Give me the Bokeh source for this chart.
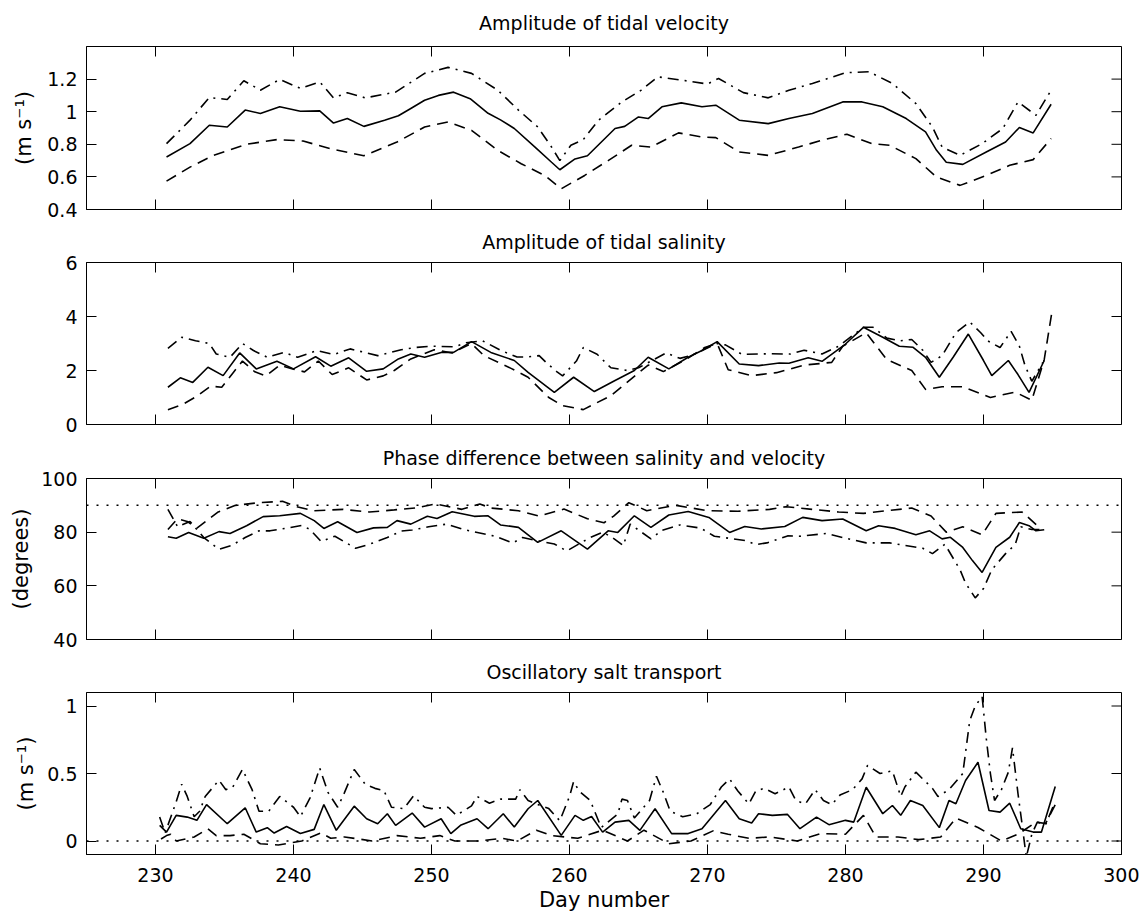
from bokeh.plotting import figure
from bokeh.models import FixedTicker, Span, Range1d
from bokeh.layouts import column
from bokeh.embed import file_html
from bokeh.resources import INLINE

# ---------------- data ----------------
X_TICKS = [230, 240, 250, 260, 270, 280, 290, 300]
X_LABEL = "Day number"
X_RANGE = (225, 300)

# Panel 1: amplitude of tidal velocity
vel_solid_day = [230.8, 232.5, 233.9, 235.2, 236.5, 237.6, 239.0, 240.5, 241.9, 242.9, 243.9, 245.1,
                 246.6, 247.6, 248.5, 249.5, 250.5, 251.6, 252.8, 254.1, 255.0, 256.0, 257.5, 258.7,
                 259.3, 260.4, 261.3, 263.3, 264.0, 265.0, 265.7, 266.7, 268.1, 269.6, 270.6, 272.3,
                 274.4, 275.9, 277.6, 279.8, 281.2, 282.7, 284.4, 285.8, 286.6, 287.3, 288.5, 290.2,
                 291.6, 292.6, 293.6, 294.9]
vel_solid = [0.722, 0.804, 0.917, 0.906, 1.01, 0.989, 1.03, 1.003, 1.005, 0.93, 0.958, 0.91,
             0.948, 0.975, 1.02, 1.07, 1.10, 1.12, 1.08, 0.99, 0.95, 0.897, 0.783, 0.69,
             0.644, 0.71, 0.73, 0.897, 0.91, 0.968, 0.958, 1.03, 1.054, 1.03, 1.04, 0.948,
             0.927, 0.958, 0.989, 1.06, 1.06, 1.03, 0.958, 0.876, 0.763, 0.69, 0.677, 0.753,
             0.814, 0.903, 0.87, 1.046]
vel_dd_day = [230.8, 232.5, 233.9, 235.2, 236.4, 237.6, 239.0, 240.5, 241.9, 242.9, 243.9, 245.2,
              247.4, 249.5, 251.2, 252.9, 254.8, 256.3, 257.7, 258.7, 259.3, 260.1, 261.0, 262.1,
              263.8, 265.2, 266.4, 268.1, 270.0, 270.8, 272.6, 274.4, 275.9, 277.6, 280.0, 281.7,
              283.4, 285.1, 286.3, 287.0, 288.3, 289.9, 291.4, 292.5, 293.8, 294.9]
vel_dd = [0.804, 0.948, 1.087, 1.075, 1.19, 1.132, 1.198, 1.143, 1.183, 1.085, 1.116, 1.085,
          1.12, 1.235, 1.272, 1.235, 1.132, 1.01, 0.906, 0.783, 0.70, 0.794, 0.829, 0.948,
          1.06, 1.132, 1.214, 1.194, 1.17, 1.204, 1.117, 1.085, 1.132, 1.173, 1.239, 1.245,
          1.173, 1.05, 0.906, 0.783, 0.732, 0.804, 0.897, 1.06, 0.978, 1.132]
vel_da_day = [230.8, 232.5, 234.2, 236.6, 238.8, 240.7, 242.8, 245.1, 247.5, 249.5, 251.2, 252.9,
              254.8, 256.5, 258.2, 259.4, 261.1, 262.8, 264.5, 265.9, 267.9, 269.6, 270.6, 272.3,
              274.4, 276.6, 278.3, 280.1, 281.9, 283.2, 285.1, 286.6, 288.3, 290.2, 291.9, 293.6,
              294.9]
vel_da = [0.574, 0.66, 0.732, 0.80, 0.829, 0.82, 0.77, 0.73, 0.814, 0.906, 0.937, 0.886,
          0.763, 0.681, 0.609, 0.527, 0.609, 0.70, 0.794, 0.783, 0.87, 0.845, 0.841, 0.753,
          0.732, 0.783, 0.825, 0.862, 0.804, 0.794, 0.712, 0.599, 0.548, 0.609, 0.671, 0.706,
          0.835]

# Panel 2: amplitude of tidal salinity
sal_solid_day = [230.9, 231.8, 232.7, 233.8, 234.9, 236.1, 237.3, 238.8, 240.0, 241.6, 242.7, 244.0,
                 245.3, 246.5, 247.6, 248.5, 249.5, 250.7, 251.6, 252.9, 254.3, 256.0, 257.0, 258.9,
                 260.3, 261.8, 263.3, 264.7, 265.7, 267.2, 268.6, 269.6, 270.7, 272.3, 273.7, 275.2,
                 275.9, 277.3, 278.3, 280.0, 281.3, 282.7, 283.9, 284.9, 285.8, 286.8, 287.8, 288.9,
                 290.0, 290.6, 291.8, 292.5, 293.3, 294.4]
sal_solid = [1.38, 1.73, 1.56, 2.12, 1.81, 2.65, 2.06, 2.34, 2.06, 2.51, 2.16, 2.47,
             1.97, 2.06, 2.43, 2.61, 2.49, 2.67, 2.67, 3.07, 2.67, 2.37, 1.93, 1.19,
             1.75, 1.22, 1.63, 2.0, 2.49, 2.06, 2.49, 2.74, 3.07, 2.24, 2.18, 2.28,
             2.27, 2.47, 2.34, 2.98, 3.60, 3.23, 2.90, 2.86, 2.49, 1.75, 2.49, 3.35,
             2.37, 1.81, 2.37, 1.85, 1.19, 2.37]
sal_dd_day = [230.9, 231.9, 232.9, 233.9, 234.4, 235.4, 236.3, 237.1, 238.1, 239.3, 240.3, 241.7,
              242.9, 244.1, 246.1, 247.8, 248.8, 250.0, 251.7, 252.5, 253.7, 255.0, 256.2, 256.9,
              257.8, 258.3, 259.1, 259.5, 260.5, 261.0, 262.0, 263.0, 264.2, 265.0, 267.0, 268.0,
              268.8, 270.7, 271.3, 272.5, 274.5, 276.0, 277.0, 278.3, 279.5, 281.3, 282.0, 283.0,
              284.0, 284.8, 285.6, 286.2, 287.0, 288.0, 289.0, 289.8, 290.3, 291.2, 292.0, 292.6,
              293.0, 293.5, 294.3]
sal_dd = [2.82, 3.23, 3.1, 3.0, 2.61, 2.49, 3.0, 2.74, 2.49, 2.67, 2.49, 2.74,
          2.59, 2.80, 2.55, 2.77, 2.85, 2.9, 2.88, 3.03, 3.1, 2.75, 2.5, 2.5,
          2.55, 2.3, 1.95, 1.8, 2.35, 2.85, 2.6, 2.1, 2.0, 2.1, 2.65, 2.45,
          2.55, 3.0, 2.95, 2.6, 2.62, 2.61, 2.75, 2.61, 2.9, 3.6, 3.6, 3.2,
          3.1, 3.15, 2.75, 2.3, 2.55, 3.4, 3.8, 3.4, 3.1, 2.85, 3.45, 2.9,
          2.2, 1.6, 2.3]
sal_da_day = [230.9, 232.0, 233.0, 234.0, 234.8, 235.6, 236.3, 237.2, 238.0, 239.0, 240.0, 240.8,
              241.8, 242.8, 244.0, 245.3, 246.5, 247.3, 248.5, 250.2, 251.5, 252.9, 253.8, 255.8,
              257.0, 258.5, 259.5, 261.0, 263.0, 264.5, 265.7, 266.8, 268.5, 269.8, 270.7, 271.5,
              273.2, 275.0, 277.0, 279.0, 279.8, 281.5, 283.0, 284.8, 285.8, 287.0, 288.5, 290.5,
              292.3, 293.5, 294.4, 295.0]
sal_da = [0.55, 0.75, 1.05, 1.42, 1.38, 1.9, 2.35, 1.95, 1.8, 2.2, 2.05, 1.95,
          2.35, 1.85, 2.1, 1.65, 1.8, 2.0, 2.43, 2.77, 2.65, 3.0, 2.55, 2.07,
          1.75, 1.0, 0.7, 0.55, 1.07, 1.7, 2.2, 1.96, 2.43, 2.85, 3.0, 2.03,
          1.81, 1.92, 2.2, 2.3, 2.9, 3.4, 2.4, 2.0, 1.3, 1.4, 1.4, 1.0,
          1.2, 0.9, 2.4, 4.3]

# Panel 3: phase difference between salinity and velocity
ph_solid_day = [230.9, 231.5, 232.4, 233.5, 234.6, 235.4, 236.6, 237.8, 239.0, 240.5, 241.5, 242.2,
                243.2, 244.6, 245.8, 246.8, 247.5, 248.5, 249.7, 250.4, 251.5, 253.1, 254.1, 255.0,
                256.3, 257.7, 259.4, 261.3, 262.8, 263.5, 264.7, 265.9, 267.2, 268.6, 270.1, 271.6,
                272.7, 273.9, 275.6, 276.9, 278.3, 279.8, 281.5, 282.4, 283.6, 285.1, 286.1, 287.0,
                287.6, 288.5, 289.2, 289.9, 290.9, 291.9, 292.6, 293.3, 293.8, 294.4]
ph_solid = [78.3, 77.7, 79.9, 77.7, 80.2, 79.5, 82.4, 85.8, 86.1, 87.0, 84.3, 81.4,
            83.9, 79.9, 81.6, 81.8, 84.3, 83.0, 85.9, 85.1, 87.6, 85.9, 86.1, 82.7,
            81.8, 76.2, 80.5, 73.7, 80.5, 79.9, 86.1, 81.8, 86.4, 87.7, 85.5, 79.9,
            82.1, 81.2, 82.1, 85.5, 84.3, 84.9, 80.5, 82.4, 81.4, 79.0, 80.5, 77.5,
            78.1, 74.3, 69.4, 65.0, 74.3, 78.1, 83.6, 82.4, 80.5, 80.9]
ph_dd_day = [230.9, 231.6, 232.5, 233.5, 234.6, 235.5, 236.5, 237.5, 238.3, 239.5, 240.6, 241.2,
             242.0, 243.0, 244.5, 245.5, 246.8, 247.8, 248.6, 249.8, 251.1, 252.3, 254.6, 255.9,
             256.6, 257.5, 258.9, 259.8, 261.5, 262.4, 263.1, 263.9, 264.4, 265.9, 266.7, 268.0,
             269.5, 270.5, 272.8, 273.5, 274.3, 275.8, 276.7, 278.6, 279.8, 281.5, 283.2, 285.6,
             286.3, 287.2, 288.3, 288.7, 289.4, 290.0, 290.6, 291.6, 292.3, 292.7, 293.5, 294.4]
ph_dd = [88.5, 82, 84, 78, 73.6, 75, 78, 80.5, 80.5, 81.5, 82.5, 81,
         76.5, 78.5, 74, 75.5, 78, 80.4, 80.8, 82, 83, 81, 78.5, 76,
         78, 77, 75.6, 73, 78, 80, 78, 75, 83, 77.5, 80.7, 82.7,
         81.5, 78.5, 76.8, 75.4, 76, 78.6, 78.5, 79.5, 78, 76, 76, 74,
         72, 75.5, 66, 61, 55.5, 59, 66, 72, 75.4, 82, 81, 81]
ph_da_day = [230.9, 231.6, 232.3, 233.0, 234.5, 235.8, 237.5, 239.2, 240.2, 241.5, 243.6, 245.5,
             247.3, 248.8, 250.3, 252.2, 253.5, 254.3, 256.3, 257.8, 259.6, 261.3, 262.5, 263.2,
             264.3, 265.6, 267.7, 270.0, 272.2, 274.5, 275.7, 277.6, 279.5, 281.3, 283.0, 284.8,
             286.2, 287.3, 288.5, 289.9, 290.9, 292.8, 294.0]
ph_da = [81, 85, 84, 81.5, 87.4, 90, 91, 91.5, 89.5, 88, 88.5, 87.5,
         88.3, 89, 90.5, 88.5, 90.5, 89, 88, 86, 88.6, 85, 83.5, 86,
         91, 88, 90, 88, 87.8, 88.5, 89.5, 88.5, 87.5, 87, 88, 89,
         86, 80, 82, 79, 87, 87.5, 82]
PH_REF = 90

# Panel 4: oscillatory salt transport
tr_solid_day = [230.3, 230.8, 231.5, 232.3, 233.0, 233.7, 235.2, 236.5, 237.3, 238.1, 238.6, 239.5,
                240.5, 241.5, 242.2, 243.1, 244.4, 245.3, 246.1, 246.8, 247.4, 248.6, 249.5, 250.7,
                251.4, 252.1, 253.3, 254.1, 255.2, 256.0, 257.0, 257.7, 259.4, 260.4, 261.0, 261.6,
                262.4, 263.3, 264.3, 265.1, 266.2, 267.4, 268.6, 269.6, 271.3, 272.3, 273.2, 273.7,
                274.7, 275.8, 276.7, 277.9, 278.8, 280.0, 280.6, 281.5, 282.7, 283.4, 284.0, 284.7,
                285.6, 286.8, 287.5, 288.0, 288.7, 289.6, 290.4, 291.2, 291.9, 292.7, 293.6, 294.2,
                295.2]
tr_solid = [0.116, 0.066, 0.19, 0.177, 0.153, 0.27, 0.128, 0.246, 0.066, 0.099, 0.059, 0.108,
            0.055, 0.086, 0.27, 0.079, 0.258, 0.165, 0.128, 0.202, 0.116, 0.207, 0.103, 0.165,
            0.055, 0.116, 0.165, 0.091, 0.202, 0.103, 0.239, 0.30, 0.042, 0.19, 0.153, 0.182,
            0.066, 0.14, 0.153, 0.079, 0.239, 0.055, 0.055, 0.091, 0.30, 0.165, 0.133, 0.202,
            0.19, 0.197, 0.091, 0.177, 0.121, 0.153, 0.14, 0.398, 0.202, 0.263, 0.19, 0.30,
            0.263, 0.099, 0.30, 0.276, 0.448, 0.583, 0.226, 0.214, 0.28, 0.091, 0.066, 0.066,
            0.403]
tr_dd_day = [230.3, 230.7, 231.5, 231.9, 232.3, 232.8, 233.2, 233.6, 234.6, 235.1, 235.6, 236.3,
             237.0, 237.5, 238.2, 239.0, 240.0, 240.5, 241.2, 241.9, 242.5, 243.2, 243.7, 244.4,
             245.2, 245.9, 246.55, 247.1, 248.0, 248.7, 249.5, 250.0, 251.2, 251.8, 252.9, 253.3,
             254.2, 255.0, 256.1, 256.4, 257.0, 257.7, 258.5, 259.3, 260.0, 260.3, 260.7, 261.5,
             262.3, 263.5, 263.8, 264.2, 264.7, 265.8, 266.3, 266.8, 267.3, 268.2, 269.2, 270.2,
             271.0, 271.6, 272.2, 273.0, 273.5, 274.1, 274.9, 275.9, 276.4, 277.1, 277.8, 278.4,
             279.0, 279.6, 280.5, 281.2, 281.6, 282.5, 283.4, 284.0, 284.3, 285.1, 286.3, 286.7,
             287.5, 288.5, 289.0, 289.4, 289.9, 290.2, 290.5, 290.8, 291.3, 291.8, 292.1, 292.5,
             292.8, 293.1, 293.5, 293.9, 294.5, 295.1]
tr_dd = [0.177, 0.06, 0.29, 0.42, 0.33, 0.18, 0.22, 0.33, 0.45, 0.38, 0.40, 0.53,
         0.38, 0.22, 0.22, 0.33, 0.25, 0.18, 0.32, 0.54, 0.36, 0.25, 0.36, 0.53,
         0.42, 0.39, 0.374, 0.25, 0.24, 0.335, 0.25, 0.24, 0.25, 0.19, 0.26, 0.33,
         0.28, 0.31, 0.31, 0.38, 0.30, 0.27, 0.24, 0.15, 0.33, 0.44, 0.37, 0.30,
         0.10, 0.20, 0.31, 0.30, 0.17, 0.30, 0.48, 0.36, 0.22, 0.18, 0.20, 0.27,
         0.40, 0.46, 0.37, 0.275, 0.37, 0.39, 0.35, 0.40, 0.30, 0.275, 0.38, 0.30,
         0.27, 0.34, 0.38, 0.46, 0.56, 0.50, 0.52, 0.33, 0.40, 0.51, 0.39, 0.33,
         0.38, 0.50, 0.89, 1.0, 1.07, 0.76, 0.50, 0.30, 0.38, 0.51, 0.69, 0.35,
         0.12, -0.12, 0.05, 0.14, 0.12, 0.27]
tr_da_day = [230.4, 230.8, 231.1, 231.5, 232.8, 233.8, 234.4, 235.4, 236.4, 237.6, 238.9, 240.6,
             242.0, 242.7, 243.7, 245.7, 247.5, 249.2, 250.6, 251.7, 253.5, 255.1, 256.2, 257.6,
             258.7, 260.6, 262.4, 264.2, 265.4, 267.2, 268.8, 270.4, 271.5, 273.0, 274.5, 276.5,
             278.2, 280.0, 281.3, 282.2, 283.8, 285.3, 286.9, 288.0, 289.6, 291.3, 292.5, 293.8,
             294.5, 295.2]
tr_da = [0.015, 0.04, 0.05, 0.0, 0.03, 0.09, 0.04, 0.04, 0.05, -0.02, -0.03, 0.0,
         0.06, 0.02, 0.03, 0.0, 0.04, 0.02, 0.04, 0.0, 0.0, 0.02, 0.0, 0.08,
         0.04, 0.02, 0.08, 0.0, 0.08, -0.02, 0.0, 0.075, 0.05, 0.02, 0.03, 0.0,
         0.055, 0.05, 0.19, 0.03, 0.03, 0.01, 0.03, 0.17, 0.10, 0.0, 0.05, 0.14,
         0.13, 0.27]
TR_REF = 0

PANELS = [
    dict(title="Amplitude of tidal velocity", ylabel="(m s\u207b\u00b9)", yr=(0.4, 1.4),
         yticks=[0.4, 0.6, 0.8, 1.0, 1.2], ylabels=["0.4", "0.6", "0.8", "1", "1.2"],
         series=[(vel_solid_day, vel_solid, "solid"), (vel_dd_day, vel_dd, "dashdot"),
                 (vel_da_day, vel_da, "dashed")], ref=None),
    dict(title="Amplitude of tidal salinity", ylabel="", yr=(0, 6),
         yticks=[0, 2, 4, 6], ylabels=["0", "2", "4", "6"],
         series=[(sal_solid_day, sal_solid, "solid"), (sal_dd_day, sal_dd, "dashdot"),
                 (sal_da_day, sal_da, "dashed")], ref=None),
    dict(title="Phase difference between salinity and velocity", ylabel="(degrees)", yr=(40, 100),
         yticks=[40, 60, 80, 100], ylabels=["40", "60", "80", "100"],
         series=[(ph_solid_day, ph_solid, "solid"), (ph_dd_day, ph_dd, "dashdot"),
                 (ph_da_day, ph_da, "dashed")], ref=PH_REF),
    dict(title="Oscillatory salt transport", ylabel="(m s\u207b\u00b9)", yr=(-0.1, 1.1),
         yticks=[0, 0.5, 1.0], ylabels=["0", "0.5", "1"],
         series=[(tr_solid_day, tr_solid, "solid"), (tr_dd_day, tr_dd, "dashdot"),
                 (tr_da_day, tr_da, "dashed")], ref=TR_REF),
]

# ---------------- styling ----------------
FONT = "DejaVu Sans"
DASH = {"solid": "solid", "dashed": "11 7", "dashdot": "11 6 2 6"}
FIG_W = 1139
BORDER_L, BORDER_R = 86, 18
FRAME_W = FIG_W - BORDER_L - BORDER_R
# (border_top, frame_height, border_bottom, title_standoff, ylabel_standoff)
LAYOUT = [(46, 163, 12, 21, 8), (41, 162, 13, 16, 8), (41, 161, 12, 16, 5), (41, 162, 63, 16, 6)]
TICK_LEN = 10


def style_axis(ax, ticks, labels):
    ax.ticker = FixedTicker(ticks=ticks)
    ax.major_tick_in = TICK_LEN
    ax.major_tick_out = 0
    ax.minor_tick_line_color = None
    ax.axis_line_color = "black"
    ax.major_tick_line_color = "black"
    ax.major_label_text_font = FONT
    ax.major_label_text_color = "black"
    ax.major_label_text_font_size = "19px"
    ax.major_label_standoff = 9
    ax.major_label_overrides = {t: l for t, l in zip(ticks, labels)}
    ax.axis_label_text_font = FONT
    ax.axis_label_text_font_size = "21px"
    ax.axis_label_text_font_style = "normal"
    ax.axis_label_text_color = "black"


figs = []
for i, pan in enumerate(PANELS):
    bt, fh, bb, tso, yso = LAYOUT[i]
    last = i == len(PANELS) - 1
    y0, y1 = pan["yr"]
    p = figure(width=FIG_W, height=bt + fh + bb, x_range=Range1d(*X_RANGE), y_range=Range1d(y0, y1),
               output_backend="svg", toolbar_location=None,
               min_border_left=BORDER_L, min_border_right=BORDER_R,
               min_border_top=bt, min_border_bottom=bb)
    p.background_fill_color = "white"
    p.border_fill_color = "white"
    p.outline_line_color = "black"
    p.outline_line_width = 1
    p.xgrid.visible = False
    p.ygrid.visible = False

    p.title.text = pan["title"]
    p.title.align = "center"
    p.title.vertical_align = "top"
    p.title.standoff = tso
    p.title.text_font = FONT
    p.title.text_font_size = "19px"
    p.title.text_font_style = "normal"
    p.title.text_color = "black"

    style_axis(p.yaxis[0], pan["yticks"], pan["ylabels"])
    if pan["ylabel"]:
        p.yaxis[0].axis_label = pan["ylabel"]
        p.yaxis[0].axis_label_standoff = yso

    if last:
        style_axis(p.xaxis[0], X_TICKS, [str(t) for t in X_TICKS])
        p.xaxis[0].major_label_standoff = 13
        p.xaxis[0].axis_label = X_LABEL
        p.xaxis[0].axis_label_standoff = 3
    else:
        p.xaxis.visible = False
        ly = TICK_LEN / fh * (y1 - y0)
        p.segment(x0=X_TICKS, y0=[y0] * len(X_TICKS), x1=X_TICKS, y1=[y0 + ly] * len(X_TICKS),
                  line_color="black", line_width=1)

    # mirrored inward ticks on top and right sides
    ly = TICK_LEN / fh * (y1 - y0)
    p.segment(x0=X_TICKS, y0=[y1] * len(X_TICKS), x1=X_TICKS, y1=[y1 - ly] * len(X_TICKS),
              line_color="black", line_width=1)
    lx = TICK_LEN / FRAME_W * (X_RANGE[1] - X_RANGE[0])
    yt = pan["yticks"]
    p.segment(x0=[X_RANGE[1]] * len(yt), y0=yt, x1=[X_RANGE[1] - lx] * len(yt), y1=yt,
              line_color="black", line_width=1)

    if pan["ref"] is not None:
        p.add_layout(Span(location=pan["ref"], dimension="width", line_color="black",
                          line_width=1.5, line_dash="2 8"))

    for xs, ys, st in pan["series"]:
        p.line(xs, ys, line_color="black", line_width=1.6, line_dash=DASH[st])

    figs.append(p)

layout = column(*figs)
open("out.html", "w").write(file_html(layout, INLINE))
